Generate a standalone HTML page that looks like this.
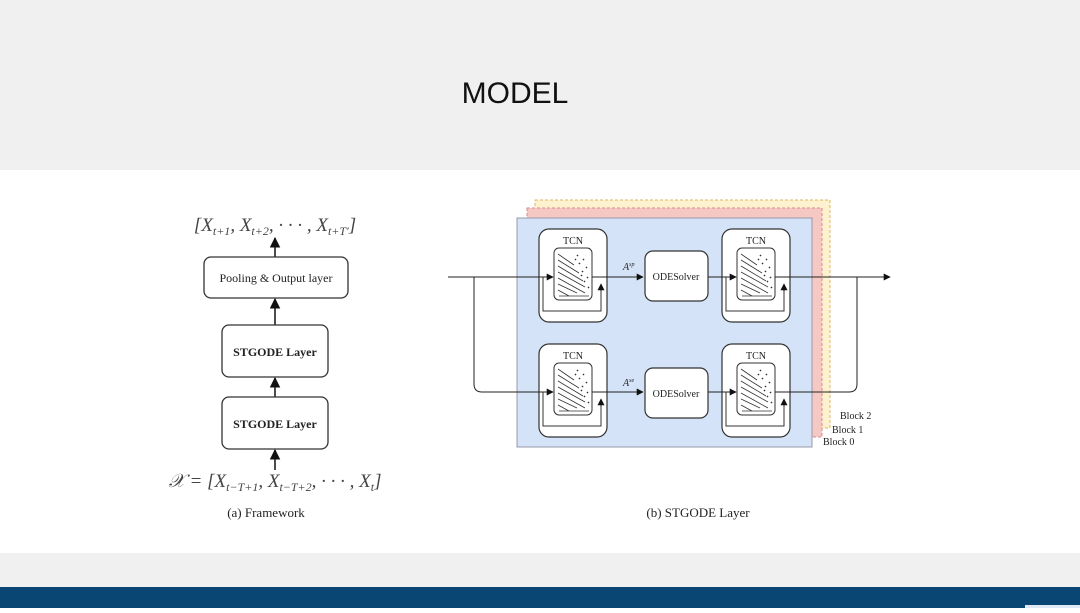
<!DOCTYPE html>
<html><head><meta charset="utf-8"><style>
body{margin:0;width:1080px;height:608px;overflow:hidden;background:#fff;font-family:"Liberation Serif",serif}
</style></head><body>
<svg width="1080" height="608" viewBox="0 0 1080 608" xmlns="http://www.w3.org/2000/svg" font-family="Liberation Serif, serif">
<defs>
<marker id="a" viewBox="0 0 10 10" refX="9" refY="5" markerWidth="7" markerHeight="7" orient="auto"><path d="M0,0L10,5L0,10z" fill="#111"/></marker>
<g id="tcn">
<rect x="0" y="0" width="68" height="93" rx="10" fill="#fff" stroke="#333" stroke-width="1.2"/>
<text x="34" y="15" font-size="10" text-anchor="middle" fill="#222">TCN</text>
<path d="M4,48 V82 H62 V56" fill="none" stroke="#333" stroke-width="1"/>
<path d="M62,62 V55" stroke="#111" marker-end="url(#a)"/>
<rect x="15" y="19" width="38" height="52" rx="5" fill="#fff" stroke="#333"/>
<g stroke="#333" stroke-width="0.8">
<path d="M19,25 L35,36 M19,31 L40,44 M19,37 L44,52 M19,43 L46,58 M19,49 L46,64 M19,55 L38,64 M19,61 L30,67 M20,67 H50"/>
<path d="M38,26 l1,1 M44,30 l1,1 M40,34 l1,1 M47,38 l1,1 M43,42 l1,1 M48,48 l1,1 M45,52 l1,1 M49,58 l1,1 M36,30 l1,1 M42,46 l1,1" stroke-width="1.5"/>
</g>
</g>
</defs>
<rect x="0" y="0" width="1080" height="170" fill="#f0f0f0"/>
<text x="515" y="103" font-family="Liberation Sans, sans-serif" font-size="30" text-anchor="middle" fill="#111">MODEL</text>
<rect x="0" y="553" width="1080" height="34" fill="#f0f0f0"/>
<rect x="0" y="587" width="1080" height="21" fill="#0a4673"/>
<rect x="1025" y="605" width="55" height="3" fill="#dfe9f3"/>

<!-- left -->
<text x="275" y="231" font-size="19" font-style="italic" text-anchor="middle" fill="#444">[X<tspan font-size="12" dy="4">t+1</tspan><tspan dy="-4">, X</tspan><tspan font-size="12" dy="4">t+2</tspan><tspan dy="-4">, · · · , X</tspan><tspan font-size="12" dy="4">t+T′</tspan><tspan dy="-4">]</tspan></text>
<g stroke="#111" stroke-width="1.5">
<line x1="275" y1="257" x2="275" y2="238" marker-end="url(#a)"/>
<line x1="275" y1="325" x2="275" y2="299" marker-end="url(#a)"/>
<line x1="275" y1="397" x2="275" y2="378" marker-end="url(#a)"/>
<line x1="275" y1="470" x2="275" y2="450" marker-end="url(#a)"/>
</g>
<rect x="204" y="257" width="144" height="41" rx="7" fill="#fff" stroke="#333" stroke-width="1.3"/>
<text x="276" y="282" font-size="12" text-anchor="middle" fill="#222">Pooling &amp; Output layer</text>
<rect x="222" y="325" width="106" height="52" rx="7" fill="#fff" stroke="#333" stroke-width="1.3"/>
<text x="275" y="356" font-size="12" font-weight="bold" text-anchor="middle" fill="#222">STGODE Layer</text>
<rect x="222" y="397" width="106" height="52" rx="7" fill="#fff" stroke="#333" stroke-width="1.3"/>
<text x="275" y="428" font-size="12" font-weight="bold" text-anchor="middle" fill="#222">STGODE Layer</text>
<text x="275" y="487" font-size="19" font-style="italic" text-anchor="middle" fill="#444">𝒳 = [X<tspan font-size="12" dy="4">t−T+1</tspan><tspan dy="-4">, X</tspan><tspan font-size="12" dy="4">t−T+2</tspan><tspan dy="-4">, · · · , X</tspan><tspan font-size="12" dy="4">t</tspan><tspan dy="-4">]</tspan></text>
<text x="266" y="517" font-size="13" text-anchor="middle" fill="#222">(a)  Framework</text>

<!-- right -->
<rect x="535" y="200" width="295" height="228" fill="#fdf1cf" stroke="#d9b860" stroke-dasharray="3,2"/>
<rect x="527" y="208" width="295" height="229" fill="#f6c8c4" stroke="#d88" stroke-dasharray="3,2"/>
<rect x="517" y="218" width="295" height="229" fill="#d4e3f7" stroke="#99a" stroke-width="1"/>
<text x="840" y="419" font-size="10" fill="#222">Block 2</text>
<text x="832" y="433" font-size="10" fill="#222">Block 1</text>
<text x="823" y="445" font-size="10" fill="#222">Block 0</text>

<use href="#tcn" x="539" y="229"/>
<use href="#tcn" x="722" y="229"/>
<use href="#tcn" x="539" y="344"/>
<use href="#tcn" x="722" y="344"/>
<rect x="645" y="251" width="63" height="50" rx="8" fill="#fff" stroke="#333" stroke-width="1.2"/>
<text x="676" y="280" font-size="10" text-anchor="middle" fill="#222">ODESolver</text>
<rect x="645" y="368" width="63" height="50" rx="8" fill="#fff" stroke="#333" stroke-width="1.2"/>
<text x="676" y="397" font-size="10" text-anchor="middle" fill="#222">ODESolver</text>
<text x="623" y="270" font-size="10" font-style="italic" fill="#222">A<tspan font-size="6" dy="-4">sp</tspan></text>
<text x="623" y="386" font-size="10" font-style="italic" fill="#222">A<tspan font-size="6" dy="-4">se</tspan></text>

<g stroke="#222" stroke-width="1" fill="none">
<path d="M448,277 H553" marker-end="url(#a)"/>
<path d="M474,277 V384 Q474,392 482,392 H553" marker-end="url(#a)"/>
<path d="M592,277 H643" marker-end="url(#a)"/>
<path d="M592,392 H643" marker-end="url(#a)"/>
<path d="M708,277 H736" marker-end="url(#a)"/>
<path d="M708,392 H736" marker-end="url(#a)"/>
<path d="M775,277 H890" marker-end="url(#a)"/>
<path d="M775,392 H849 Q857,392 857,384 V277"/>
</g>
<text x="698" y="517" font-size="13" text-anchor="middle" fill="#222">(b)  STGODE Layer</text>
</svg>
</body></html>
